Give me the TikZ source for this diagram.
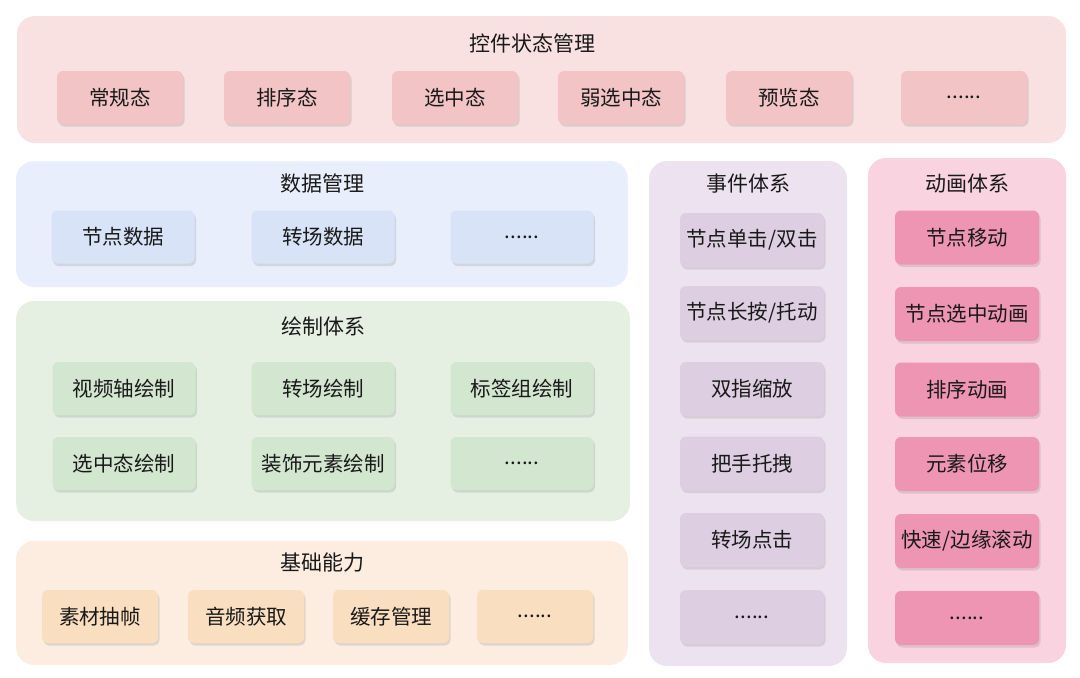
\documentclass[tikz,border=0pt]{standalone}
\usepackage{fontspec}
\setmainfont{Noto Sans CJK SC}
\usetikzlibrary{shadows}

\definecolor{statebg}{HTML}{F9E0E1}
\definecolor{statefill}{HTML}{F2C4C5}
\definecolor{databg}{HTML}{E8EEFB}
\definecolor{datafill}{HTML}{D8E3F8}
\definecolor{drawbg}{HTML}{E5F0E3}
\definecolor{drawfill}{HTML}{D3E6D0}
\definecolor{basebg}{HTML}{FCEDE0}
\definecolor{basefill}{HTML}{F9DEC0}
\definecolor{eventbg}{HTML}{EDE3F0}
\definecolor{eventfill}{HTML}{DDCEE2}
\definecolor{animbg}{HTML}{F9D3E0}
\definecolor{animfill}{HTML}{EE95B3}

\begin{document}
\begin{tikzpicture}[x=1pt, y=-1pt,
  panel/.style={rounded corners=18pt, inner sep=0pt},
  paneltitle/.style={font=\fontsize{21}{25}\selectfont, text=black!90},
  box/.style={rounded corners=6pt, inner sep=0pt, minimum height=53pt,
    font=\fontsize{20.5}{24}\selectfont, text=black!90,
    drop shadow={opacity=0.22, shadow xshift=1.5pt, shadow yshift=-2.5pt}},
  statebox/.style={box, fill=statefill, minimum width=126pt},
  databox/.style={box, fill=datafill, minimum width=143pt},
  drawbox/.style={box, fill=drawfill, minimum width=143pt},
  basebox/.style={box, fill=basefill, minimum width=116pt},
  eventbox/.style={box, fill=eventfill, minimum width=144pt, minimum height=54pt},
  animbox/.style={box, fill=animfill, minimum width=144pt, minimum height=54pt}]
\useasboundingbox (0,0) rectangle (1080,678);

% panels
\node[panel, fill=statebg, minimum width=1049pt, minimum height=127pt] at (541.5,79.5) (state) {};
\node[panel, fill=databg, minimum width=612pt, minimum height=126pt] at (322,224) (data) {};
\node[panel, fill=drawbg, minimum width=614pt, minimum height=220pt] at (323,411) (draw) {};
\node[panel, fill=basebg, minimum width=612pt, minimum height=124pt] at (322,603) (base) {};
\node[panel, fill=eventbg, minimum width=198pt, minimum height=505pt] at (748,413.5) (event) {};
\node[panel, fill=animbg, minimum width=198pt, minimum height=505pt] at (967,410.5) (anim) {};

\node[paneltitle] at (532,43) (statetitle) {控件状态管理};
\node[paneltitle] at (322,184) (datatitle) {数据管理};
\node[paneltitle] at (323,326) (drawtitle) {绘制体系};
\node[paneltitle] at (322,563) (basetitle) {基础能力};
\node[paneltitle] at (748,184) (eventtitle) {事件体系};
\node[paneltitle] at (967,184) (animtitle) {动画体系};

% state row
\node[statebox] at (120,97.5) (normal) {常规态};
\node[statebox] at (287,97.5) (sorting) {排序态};
\node[statebox] at (455,97.5) (selected) {选中态};
\node[statebox] at (621,97.5) (weaksel) {弱选中态};
\node[statebox] at (789,97.5) (preview) {预览态};
\node[statebox] at (964,97.5) (statemore) {......};

% data row
\node[databox] at (123,237) (nodedata) {节点数据};
\node[databox] at (323,237) (transdata) {转场数据};
\node[databox] at (522,237) (datamore) {......};

% drawing rows
\node[drawbox] at (124,388.5) (trackdraw) {视频轴绘制};
\node[drawbox] at (323,388.5) (transdraw) {转场绘制};
\node[drawbox] at (522,388.5) (tagdraw) {标签组绘制};
\node[drawbox] at (124,463.5) (seldraw) {选中态绘制};
\node[drawbox] at (323,463.5) (decodraw) {装饰元素绘制};
\node[drawbox] at (522,463.5) (drawmore) {......};

% base row
\node[basebox] at (100,616.5) (frames) {素材抽帧};
\node[basebox] at (246,616.5) (audio) {音频获取};
\node[basebox] at (391,616.5) (cache) {缓存管理};
\node[basebox] at (535,616.5) (basemore) {......};

% events
\node[eventbox] at (752,240) (tap) {节点单击/双击};
\node[eventbox] at (752,313) (press) {节点长按/托动};
\node[eventbox] at (752,389) (pinch) {双指缩放};
\node[eventbox] at (752,463.5) (handle) {把手托拽};
\node[eventbox] at (752,540) (transtap) {转场点击};
\node[eventbox] at (752,617) (eventmore) {......};

% animations
\node[animbox] at (967,237.5) (move) {节点移动};
\node[animbox] at (967,314) (selanim) {节点选中动画};
\node[animbox] at (967,389.5) (sortanim) {排序动画};
\node[animbox] at (967,464) (shift) {元素位移};
\node[animbox] at (967,541) (scroll) {快速/边缘滚动};
\node[animbox] at (967,618) (animmore) {......};
\end{tikzpicture}
\end{document}
